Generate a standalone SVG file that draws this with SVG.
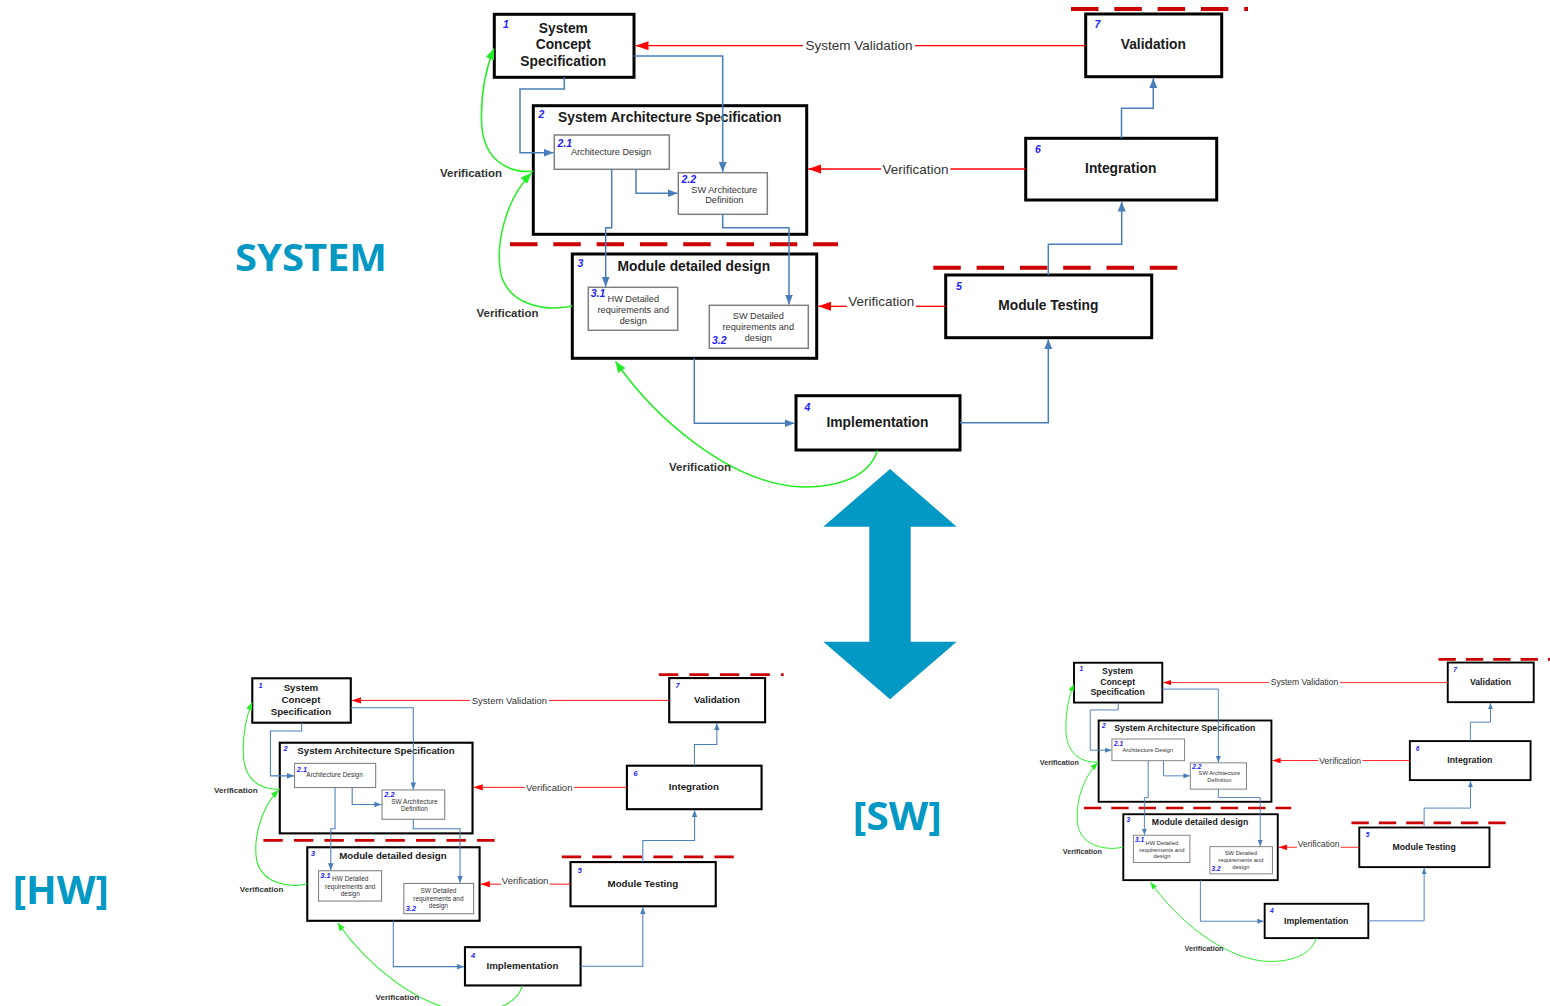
<svg xmlns="http://www.w3.org/2000/svg" width="1550" height="1006" viewBox="0 0 1550 1006">
<style>
.box{fill:#fff;stroke:#000;stroke-width:3}
.sub{fill:#fff;stroke:#7f7f7f;stroke-width:1.5}
.t{font-family:"Liberation Sans",Arial,sans-serif;font-weight:bold;font-size:13.8px;fill:#1a1a1a;text-anchor:middle}
.s{font-family:"Liberation Sans",Arial,sans-serif;font-size:9.2px;fill:#333;text-anchor:middle}
.n{font-family:"Liberation Sans",Arial,sans-serif;font-size:10.5px;font-weight:bold;font-style:italic;fill:#2323ff}
.lbl{font-family:"Liberation Sans",Arial,sans-serif;font-size:13.5px;fill:#333;text-anchor:middle}
.vl{font-family:"Liberation Sans",Arial,sans-serif;font-size:11.5px;font-weight:bold;fill:#333;text-anchor:middle}
.blue{stroke:#4a7ebb;stroke-width:1.5;fill:none}
.red{stroke:#ff0000;stroke-width:1.3;fill:none}
.green{stroke:#22ee22;stroke-width:1.5;fill:none}
.dash{stroke:#cc0000;stroke-width:4;stroke-dasharray:27.5 15.8;fill:none}
.big{font-family:"Open Sans","Liberation Sans",sans-serif;font-weight:bold;fill:#0399c4}
</style>
<defs>
<marker id="ab" markerUnits="userSpaceOnUse" markerWidth="11" markerHeight="9" refX="10" refY="4" orient="auto"><path d="M0,0 L10,4 L0,8 z" fill="#4a7ebb"/></marker>
<marker id="ar" markerUnits="userSpaceOnUse" markerWidth="14" markerHeight="10" refX="13" refY="4.5" orient="auto"><path d="M0,0 L13,4.5 L0,9 z" fill="#ff0000"/></marker>
<marker id="ag" markerUnits="userSpaceOnUse" markerWidth="12" markerHeight="10" refX="11" refY="4.5" orient="auto"><path d="M0,0 L11,4.5 L0,9 z" fill="#22ee22"/></marker>
</defs>
<rect width="1550" height="1006" fill="#fff"/>

<g id="system-diagram">
  <g id="phase-lines">
    <line class="dash" x1="1071" y1="9" x2="1248" y2="9"/>
    <line class="dash" x1="510" y1="244.3" x2="838" y2="244.3"/>
    <line class="dash" x1="933.3" y1="267.7" x2="1178" y2="267.7"/>
  </g>
  <g id="n1">
    <rect class="box" x="494.3" y="14.3" width="139.7" height="63"/>
    <text class="n" x="503" y="28">1</text>
    <text class="t" x="563.3" y="32.7">System</text>
    <text class="t" x="563.3" y="49.3">Concept</text>
    <text class="t" x="563.3" y="66">Specification</text>
  </g>
  <g id="n2">
    <rect class="box" x="533.3" y="105.7" width="273.4" height="128.6"/>
    <text class="n" x="538.5" y="118">2</text>
    <text class="t" x="669.7" y="121.7">System Architecture Specification</text>
  </g>
  <g id="n2-1">
    <rect class="sub" x="554.3" y="135" width="115" height="34.3"/>
    <text class="n" x="557.5" y="146.7">2.1</text>
    <text class="s" x="611" y="155">Architecture Design</text>
  </g>
  <g id="n2-2">
    <rect class="sub" x="678.3" y="172.7" width="89" height="41.6"/>
    <text class="n" x="681.5" y="182.7">2.2</text>
    <text class="s" x="724.3" y="192.7">SW Architecture</text>
    <text class="s" x="724.3" y="203">Definition</text>
  </g>
  <g id="n3">
    <rect class="box" x="572.3" y="254" width="244.4" height="104.3"/>
    <text class="n" x="577.5" y="266.7">3</text>
    <text class="t" x="693.8" y="270.7">Module detailed design</text>
  </g>
  <g id="n3-1">
    <rect class="sub" x="588.3" y="287.3" width="89.4" height="43"/>
    <text class="n" x="590.7" y="297.3">3.1</text>
    <text class="s" x="633.3" y="302.3">HW Detailed</text>
    <text class="s" x="633.3" y="313">requirements and</text>
    <text class="s" x="633.3" y="323.5">design</text>
  </g>
  <g id="n3-2">
    <rect class="sub" x="709.3" y="305.3" width="99" height="43"/>
    <text class="n" x="712" y="344.3">3.2</text>
    <text class="s" x="758.3" y="319.3">SW Detailed</text>
    <text class="s" x="758.3" y="330">requirements and</text>
    <text class="s" x="758.3" y="340.5">design</text>
  </g>
  <g id="n4">
    <rect class="box" x="796" y="395.7" width="164" height="54.3"/>
    <text class="n" x="804.5" y="411">4</text>
    <text class="t" x="877.5" y="427">Implementation</text>
  </g>
  <g id="n5">
    <rect class="box" x="945.7" y="275" width="206" height="62.7"/>
    <text class="n" x="956" y="290">5</text>
    <text class="t" x="1048.3" y="310">Module Testing</text>
  </g>
  <g id="n6">
    <rect class="box" x="1025.7" y="138.3" width="191" height="61.7"/>
    <text class="n" x="1035" y="153.3">6</text>
    <text class="t" x="1120.7" y="172.5">Integration</text>
  </g>
  <g id="n7">
    <rect class="box" x="1085.7" y="14" width="136" height="62.7"/>
    <text class="n" x="1094.5" y="28.3">7</text>
    <text class="t" x="1153.3" y="49.3">Validation</text>
  </g>
  <g id="connectors">
    <path class="blue" d="M564.3,77.3 V89 H520 V152.7 H553.5" marker-end="url(#ab)"/>
    <path class="blue" d="M634,56 H722.7 V172" marker-end="url(#ab)"/>
    <path class="blue" d="M636,169.3 V193.3 H677.5" marker-end="url(#ab)"/>
    <path class="blue" d="M611.7,169.3 V227.7 H605.7 V286.7" marker-end="url(#ab)"/>
    <path class="blue" d="M722.7,214.3 V227.7 H789 V304.5" marker-end="url(#ab)"/>
    <path class="blue" d="M694.3,358.3 V423.3 H794.5" marker-end="url(#ab)"/>
    <path class="blue" d="M960,422.7 H1048.3 V339.2" marker-end="url(#ab)"/>
    <path class="blue" d="M1048.3,275 V244.3 H1121.7 V201.5" marker-end="url(#ab)"/>
    <path class="blue" d="M1121.5,138.3 V108.3 H1153.3 V78.2" marker-end="url(#ab)"/>
    <path class="red" d="M1085.7,45.7 H915"/>
    <path class="red" d="M803,45.7 H635.5" marker-end="url(#ar)"/>
    <text class="lbl" x="859" y="50.3">System Validation</text>
    <path class="red" d="M1025.7,169 H950.5"/>
    <path class="red" d="M881,169 H808.2" marker-end="url(#ar)"/>
    <text class="lbl" x="915.5" y="173.8">Verification</text>
    <path class="red" d="M945.7,306.3 H916"/>
    <path class="red" d="M847,306.3 H818.2" marker-end="url(#ar)"/>
    <text class="lbl" x="881.3" y="306">Verification</text>
    <path class="green" d="M533.3,171.5 C505,173 482,158 481.5,120 C481,92 486,68 494,48.5" marker-end="url(#ag)"/>
    <path class="green" d="M572.3,306 C545,312 510,305 501,275 C495,245 505,200 531.5,173" marker-end="url(#ag)"/>
    <path class="green" d="M877.5,450.5 C868,480 830,490 790,486 C730,478 660,425 615.5,361.5" marker-end="url(#ag)"/>
    <text class="vl" x="471" y="176.5">Verification</text>
    <text class="vl" x="507.5" y="317">Verification</text>
    <text class="vl" x="700" y="471">Verification</text>
  </g>
</g>

<g id="system-label"><text class="big" x="235" y="270.7" font-size="38" textLength="152" lengthAdjust="spacingAndGlyphs">SYSTEM</text></g>
<g id="double-arrow"><path d="M890,469 L956.7,526.7 H910.7 V641.7 H956.7 L890,699.3 L823.3,641.7 H869.3 V526.7 H823.3 Z" fill="#0399c4"/></g>

<g id="hw-diagram"><use href="#system-diagram" transform="translate(-96.2,668.2) scale(0.705)"/></g>
<g id="hw-label"><text class="big" x="12.7" y="904.3" font-size="40" textLength="96" lengthAdjust="spacingAndGlyphs">[HW]</text></g>

<g id="sw-diagram"><use href="#system-diagram" transform="translate(761.6,653.7) scale(0.632)"/></g>
<g id="sw-label"><text class="big" x="852.7" y="830" font-size="40" textLength="89" lengthAdjust="spacingAndGlyphs">[SW]</text></g>
</svg>
